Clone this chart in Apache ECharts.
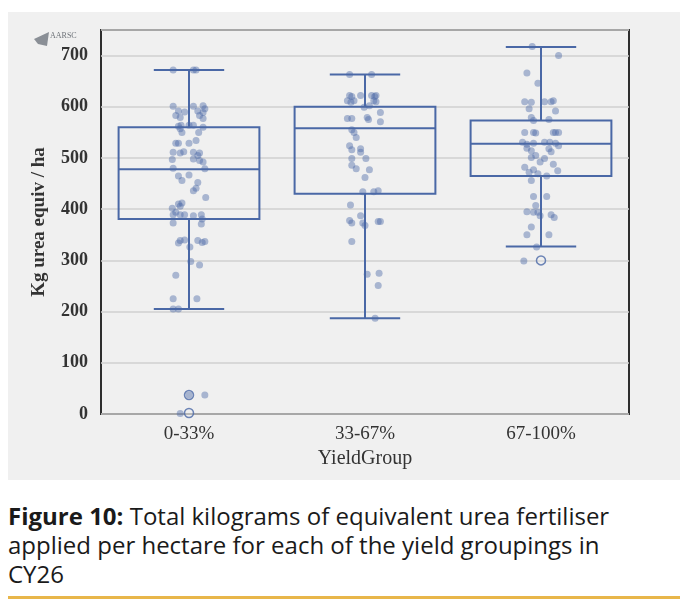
<!DOCTYPE html>
<html lang="en">
<head>
    <meta charset="UTF-8">
    <title>Figure 10 - urea per hectare by yield group</title>
    <script src="https://cdn.jsdelivr.net/npm/echarts@6/dist/echarts.min.js"></script>
    <style>
        body {
            margin: 0;
            padding: 0;
            background-color: #ffffff;
            width: 688px;
            height: 609px;
            position: relative;
            overflow: hidden;
        }

        #chart {
            position: absolute;
            left: 8px;
            top: 12px;
            width: 672px;
            height: 468px;
            background-color: #f0f0f0;
        }

        #caption {
            position: absolute;
            left: 8px;
            top: 501px;
            width: 672px;
            font-family: 'Open Sans', 'Noto Sans', sans-serif;
            font-size: 24px;
            line-height: 29px;
            color: #1a1a1a;
            white-space: nowrap;
        }

        #caption b {
            font-weight: 700;
        }

        #rule {
            position: absolute;
            left: 8px;
            top: 596px;
            width: 672px;
            height: 3px;
            background-color: #e8b64a;
        }
    </style>
</head>
<body>
    <div id="chart"></div>
    <div id="caption"><b>Figure 10:</b> Total kilograms of equivalent urea fertiliser<br>applied per hectare for each of the yield groupings in<br>CY26</div>
    <div id="rule"></div>

    <script>
        // yield groups
        const categories = ['0-33%', '33-67%', '67-100%'];

        // box stats per group: [lower whisker, Q1, median, Q3, upper whisker]
        const boxStats = [
            [205, 381, 478, 560, 672],
            [187, 430, 558, 600, 663],
            [327, 465, 528, 573, 717]
        ];

        // outliers: [group index, value]
        const outliers = [[0, 37], [0, 2], [2, 300]];

        // jittered farm points: [x offset within the group, kg urea/ha]
        const pointsLow = [
            [-0.09, 672], [0.025, 672], [0.04, 672], [-0.09, 601], [0.025, 601], [0.08, 602],
            [0.09, 596], [-0.06, 592], [-0.025, 590], [0.05, 592], [0.08, 589], [-0.075, 583],
            [-0.05, 579], [0.06, 583], [0.08, 577], [-0.06, 562], [-0.045, 564], [0, 564],
            [0.025, 564], [-0.05, 557], [0.08, 560], [-0.04, 550], [0.055, 550], [-0.075, 529],
            [-0.06, 529], [0, 529], [0.04, 534], [-0.09, 511], [-0.05, 510], [-0.03, 512],
            [0.025, 511], [0.06, 510], [0.05, 505], [-0.095, 497], [0.025, 498], [0.06, 495],
            [0.08, 492], [-0.09, 480], [0.09, 479], [-0.06, 465], [-0.04, 456], [0, 467],
            [0.05, 452], [0.04, 441], [0.025, 436], [0.095, 423], [-0.06, 410], [-0.04, 412],
            [-0.05, 406], [-0.095, 402], [-0.075, 394], [-0.09, 389], [-0.05, 389], [-0.025, 389],
            [0.025, 387], [0.07, 389], [0.075, 381], [-0.09, 373], [0.07, 371], [-0.05, 339],
            [-0.025, 340], [-0.06, 334], [0.05, 339], [0.075, 335], [0.09, 337], [0.005, 326],
            [0.01, 298], [0.06, 291], [-0.075, 271], [-0.09, 225], [0.045, 225], [-0.09, 205],
            [-0.06, 205], [0.09, 37], [0, 37], [-0.05, 1]
        ];

        const pointsMid = [
            [-0.0875, 663], [0.0375, 663], [-0.0875, 622], [-0.075, 620], [-0.025, 622], [0.0375, 622],
            [0.055, 620], [0.0625, 622], [-0.1, 612], [-0.08, 609], [-0.0625, 612], [0.05, 612],
            [0.0625, 610], [-0.005, 599], [0.025, 602], [-0.1, 577], [-0.075, 577], [0.0125, 579],
            [0.02, 575], [0.0875, 589], [0.0875, 571], [-0.075, 555], [-0.0625, 550], [-0.05, 540],
            [-0.0875, 524], [-0.075, 516], [-0.025, 518], [-0.025, 511], [-0.075, 499], [-0.075, 486],
            [0.005, 499], [-0.05, 479], [0.025, 477], [0, 462], [-0.0125, 434], [0.05, 434],
            [0.075, 436], [-0.0825, 408], [-0.025, 387], [-0.0875, 378], [-0.075, 373], [-0.0125, 373],
            [0, 368], [0.0875, 376], [0.075, 376], [-0.075, 337], [0.0125, 273], [0.08, 275],
            [0.075, 251], [0.0575, 187]
        ];

        const pointsHigh = [
            [-0.05, 718], [0.1, 700], [-0.08, 666], [-0.0175, 646], [-0.0925, 610], [-0.055, 609],
            [0.02, 610], [0.0575, 610], [0.07, 612], [-0.0675, 596], [0.0825, 592], [-0.055, 579],
            [-0.0425, 573], [0.045, 575], [-0.0925, 550], [-0.0425, 550], [-0.03, 549], [0.07, 550],
            [0.0825, 550], [0.1, 550], [-0.105, 531], [-0.08, 527], [-0.0425, 529], [0.02, 531],
            [0.05, 531], [0.0825, 529], [0.1, 524], [-0.08, 519], [-0.055, 514], [0.045, 518],
            [0.0575, 512], [-0.055, 501], [-0.03, 505], [0.02, 499], [-0.005, 492], [0.07, 488],
            [-0.0925, 482], [-0.0675, 472], [-0.0425, 477], [0.095, 475], [-0.0175, 469], [-0.055, 456],
            [0.0325, 465], [-0.0425, 425], [0.0325, 425], [-0.03, 407], [-0.08, 395], [-0.0425, 394],
            [-0.0175, 394], [-0.005, 387], [0.0575, 389], [0.075, 384], [-0.055, 365], [-0.08, 350],
            [0.045, 350], [-0.025, 326], [-0.0975, 299]
        ];

        const boxColor = '#4a68a6';
        const serif = "'Liberation Serif', 'DejaVu Serif', serif";

        // put each group's points at its category position
        const stripData = [pointsLow, pointsMid, pointsHigh].reduce((all, pts, gi) => {
            pts.forEach(p => all.push([gi + p[0], p[1]]));
            return all;
        }, []);

        function renderBox(params, api) {
            const idx = api.value(0);
            const band = api.size([1, 0])[0];
            const half = band * 0.4;
            const cap = band * 0.2;
            const lo = api.coord([idx, api.value(1)]);
            const q1 = api.coord([idx, api.value(2)]);
            const med = api.coord([idx, api.value(3)]);
            const q3 = api.coord([idx, api.value(4)]);
            const hi = api.coord([idx, api.value(5)]);
            const cx = med[0];
            const lineStyle = { stroke: boxColor, lineWidth: 2, fill: null };
            const seg = (x1, y1, x2, y2) => ({
                type: 'line',
                shape: { x1: x1, y1: y1, x2: x2, y2: y2 },
                style: lineStyle
            });
            return {
                type: 'group',
                children: [
                    {
                        type: 'rect',
                        shape: { x: cx - half, y: q3[1], width: half * 2, height: q1[1] - q3[1] },
                        style: lineStyle
                    },
                    seg(cx - half, med[1], cx + half, med[1]),
                    seg(cx, q1[1], cx, lo[1]),
                    seg(cx, q3[1], cx, hi[1]),
                    seg(cx - cap, lo[1], cx + cap, lo[1]),
                    seg(cx - cap, hi[1], cx + cap, hi[1])
                ]
            };
        }

        const chart = echarts.init(document.getElementById('chart'));

        const option = {
            backgroundColor: '#f0f0f0',
            animation: false,
            grid: {
                left: 93,
                right: 51,
                top: 18,
                bottom: 66,
                show: true,
                backgroundColor: '#f0f0f0',
                borderColor: '#2e2e2e',
                borderWidth: 2
            },
            graphic: [
                {
                    type: 'polygon',
                    shape: { points: [[26, 27], [41, 20], [39, 34], [30, 32]] },
                    style: { fill: '#8a8f96' }
                },
                {
                    type: 'text',
                    left: 42,
                    top: 20,
                    style: { text: 'AARSC', fontSize: 8, fill: '#6f747a', fontFamily: serif }
                }
            ],
            xAxis: [
                {
                    type: 'category',
                    data: categories,
                    name: 'YieldGroup',
                    nameLocation: 'middle',
                    nameGap: 29,
                    nameTextStyle: { fontFamily: serif, fontSize: 20, color: '#333' },
                    axisLine: { show: false },
                    axisTick: { show: false },
                    axisLabel: { fontFamily: serif, fontSize: 19, color: '#333', margin: 11 },
                    splitLine: { show: false }
                },
                {
                    type: 'value',
                    min: -0.5,
                    max: 2.5,
                    show: false
                }
            ],
            yAxis: {
                type: 'value',
                min: 0,
                max: 750,
                interval: 100,
                name: 'Kg urea equiv / ha',
                nameLocation: 'middle',
                nameGap: 52,
                nameTextStyle: { fontFamily: serif, fontSize: 19, color: '#333', fontWeight: 'bold' },
                axisLine: { show: false },
                axisTick: { show: false },
                axisLabel: {
                    fontFamily: serif, fontSize: 18, color: '#333', fontWeight: 'bold',
                    margin: 13, showMaxLabel: false
                },
                splitLine: { lineStyle: { color: '#d0d0d0', width: 1.5 } }
            },
            series: [
                {
                    name: 'box',
                    type: 'custom',
                    xAxisIndex: 0,
                    renderItem: renderBox,
                    data: boxStats.map((s, i) => [i].concat(s)),
                    z: 2
                },
                {
                    name: 'outliers',
                    type: 'scatter',
                    xAxisIndex: 0,
                    symbolSize: 9,
                    itemStyle: { color: 'rgba(240,240,240,0.3)', borderColor: boxColor, borderWidth: 1.5 },
                    data: outliers,
                    z: 3
                },
                {
                    name: 'farms',
                    type: 'scatter',
                    xAxisIndex: 1,
                    symbolSize: 7,
                    itemStyle: { color: 'rgba(74,104,166,0.55)' },
                    data: stripData,
                    z: 4
                }
            ]
        };

        chart.setOption(option);
    </script>
</body>
</html>
